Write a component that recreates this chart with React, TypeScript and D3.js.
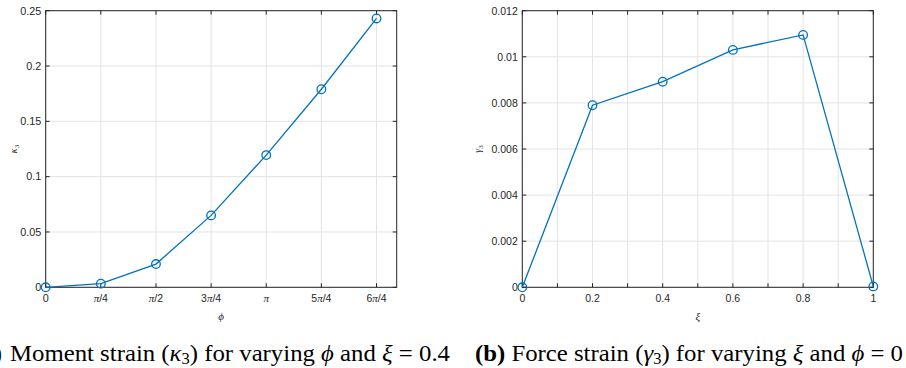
import React from "react";
import * as d3 from "d3";

const phiTicks = [0, 1, 2, 3, 4, 5, 6]; // multiples of pi/4
const phiTickLabels = ["0", "π/4", "π/2", "3π/4", "π", "5π/4", "6π/4"];
const kappaValues = [0, 0.0033, 0.021, 0.065, 0.1195, 0.179, 0.243];
const kappaTicks = [0, 0.05, 0.1, 0.15, 0.2, 0.25];
const kappaTickLabels = ["0", "0.05", "0.1", "0.15", "0.2", "0.25"];

const xiValues = [0, 0.2, 0.4, 0.6, 0.8, 1];
const gammaValues = [0, 0.0079, 0.00892, 0.0103, 0.01095, 0.00004];
const xiTicks = [0, 0.1, 0.2, 0.3, 0.4, 0.5, 0.6, 0.7, 0.8, 0.9, 1];
const xiTickLabels = ["0", "", "0.2", "", "0.4", "", "0.6", "", "0.8", "", "1"];
const gammaTicks = [0, 0.002, 0.004, 0.006, 0.008, 0.01, 0.012];
const gammaTickLabels = ["0", "0.002", "0.004", "0.006", "0.008", "0.01", "0.012"];

const AX = "#262626";
const GRID = "#e3e3e3";
const BLUE = "#0072BD";
const SANS = "'Liberation Sans', Arial, Helvetica, sans-serif";
const SERIF = "'Liberation Serif', 'Times New Roman', serif";
const TICK = 4;

function Panel({ x0, x1, y0, y1, xDomain, yDomain, xTicks, xLabels, yTicks, yLabels, xs, ys, piLabels, fs }: any) {
  const x = d3.scaleLinear().domain(xDomain).range([x0, x1]);
  const y = d3.scaleLinear().domain(yDomain).range([y1, y0]);
  const line = d3.line<number>().x((d, i) => x(xs[i])).y((d) => y(d));
  return (
    <g>
      {xTicks.map((t: number, i: number) => (
        <line key={"gx" + i} x1={x(t)} x2={x(t)} y1={y0} y2={y1} stroke={GRID} strokeWidth={1} />
      ))}
      {yTicks.map((t: number, i: number) => (
        <line key={"gy" + i} x1={x0} x2={x1} y1={y(t)} y2={y(t)} stroke={GRID} strokeWidth={1} />
      ))}
      <rect x={x0} y={y0} width={x1 - x0} height={y1 - y0} fill="none" stroke={AX} strokeWidth={1} />
      {xTicks.map((t: number, i: number) => (
        <g key={"tx" + i}>
          <line x1={x(t)} x2={x(t)} y1={y1} y2={y1 - TICK} stroke={AX} />
          <line x1={x(t)} x2={x(t)} y1={y0} y2={y0 + TICK} stroke={AX} />
        </g>
      ))}
      {yTicks.map((t: number, i: number) => (
        <g key={"ty" + i}>
          <line x1={x0} x2={x0 + TICK} y1={y(t)} y2={y(t)} stroke={AX} />
          <line x1={x1} x2={x1 - TICK} y1={y(t)} y2={y(t)} stroke={AX} />
        </g>
      ))}
      {xTicks.map((t: number, i: number) => {
        const lab = xLabels[i];
        if (!lab) return null;
        if (piLabels && lab.includes("π")) {
          const parts = lab.split("π");
          return (
            <text key={"lx" + i} x={x(t)} y={y1 + 15} textAnchor="middle" fontFamily={SANS} fontSize={10.5} fill={AX}>
              {parts[0]}
              <tspan fontFamily={SERIF} fontStyle="italic" fontSize={11}>π</tspan>
              {parts[1]}
            </text>
          );
        }
        return (
          <text key={"lx" + i} x={x(t)} y={y1 + 15} textAnchor="middle" fontFamily={SANS} fontSize={fs} fill={AX}>
            {lab}
          </text>
        );
      })}
      {yTicks.map((t: number, i: number) => (
        <text key={"ly" + i} x={x0 - 4.5} y={y(t) + 3.8} textAnchor="end" fontFamily={SANS} fontSize={fs} fill={AX}>
          {yLabels[i]}
        </text>
      ))}
      <path d={line(ys) || ""} fill="none" stroke={BLUE} strokeWidth={1.3} />
      {ys.map((v: number, i: number) => (
        <circle key={"c" + i} cx={x(xs[i])} cy={y(v)} r={4.3} fill="none" stroke={BLUE} strokeWidth={1.3} />
      ))}
    </g>
  );
}

export default function App() {
  const phiX = phiTicks.map((k) => (k * Math.PI) / 4);
  return (
    <svg width={906} height={368} style={{ position: "absolute", left: 0, top: 0, background: "#fff" }}>
      <rect width={906} height={368} fill="#fff" />
      <Panel
        x0={45.7} x1={396.7} y0={10.7} y1={287.3}
        xDomain={[0, 5]} yDomain={[0, 0.25]}
        xTicks={phiX} xLabels={phiTickLabels}
        yTicks={kappaTicks} yLabels={kappaTickLabels}
        xs={phiX} ys={kappaValues} piLabels={true} fs={10.8}
      />
      <Panel
        x0={522.3} x1={873.3} y0={10.7} y1={287.3}
        xDomain={[0, 1]} yDomain={[0, 0.012]}
        xTicks={xiTicks} xLabels={xiTickLabels}
        yTicks={gammaTicks} yLabels={gammaTickLabels}
        xs={xiValues} ys={gammaValues} piLabels={false} fs={10.5}
      />
      {/* axis labels */}
      <text x={221} y={320} textAnchor="middle" fontFamily={SERIF} fontStyle="italic" fontSize={11} fill={AX}>ϕ</text>
      <text x={697.8} y={320} textAnchor="middle" fontFamily={SERIF} fontStyle="italic" fontSize={11} fill={AX}>ξ</text>
      <text transform="translate(17,149) rotate(-90)" textAnchor="middle" fontFamily={SERIF} fontSize={10} fill={AX}>
        <tspan fontStyle="italic">κ</tspan><tspan fontSize={7} dy={2}>3</tspan>
      </text>
      <text transform="translate(481,149) rotate(-90)" textAnchor="middle" fontFamily={SERIF} fontSize={10} fill={AX}>
        <tspan fontStyle="italic">γ</tspan><tspan fontSize={7} dy={2}>3</tspan>
      </text>
      {/* captions */}
      <text x={2} y={361} textAnchor="end" fontFamily={SERIF} fontSize={24} fill="#000">
        <tspan fontWeight="bold">(a)</tspan>
      </text>
      <text x={10} y={361} fontFamily={SERIF} fontSize={24} fill="#000" textLength={440} lengthAdjust="spacingAndGlyphs">
        Moment strain (<tspan fontStyle="italic">κ</tspan><tspan fontSize={16} dy={3}>3</tspan><tspan dy={-3}>) for varying </tspan>
        <tspan fontStyle="italic">ϕ</tspan> and <tspan fontStyle="italic">ξ</tspan> = 0.4
      </text>
      <text x={475} y={361} fontFamily={SERIF} fontSize={24} fill="#000" textLength={428} lengthAdjust="spacingAndGlyphs">
        <tspan fontWeight="bold">(b)</tspan> Force strain (<tspan fontStyle="italic">γ</tspan><tspan fontSize={16} dy={3}>3</tspan><tspan dy={-3}>) for varying </tspan>
        <tspan fontStyle="italic">ξ</tspan> and <tspan fontStyle="italic">ϕ</tspan> = 0
      </text>
    </svg>
  );
}
